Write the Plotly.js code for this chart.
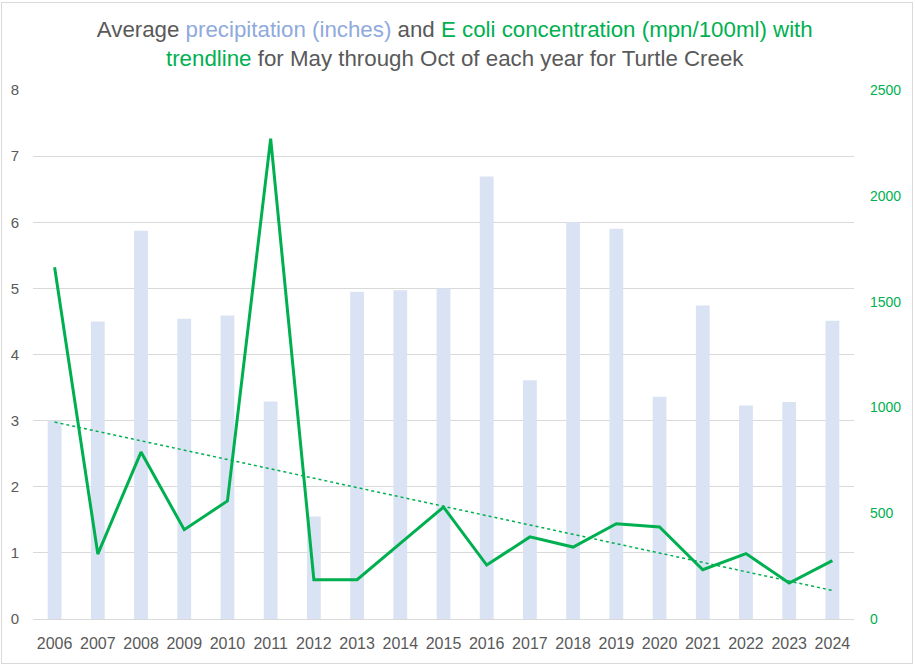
<!DOCTYPE html>
<html>
<head>
<meta charset="utf-8">
<script src="https://cdn.plot.ly/plotly-3.0.1.min.js"></script>
<style>
  html, body { margin: 0; padding: 0; background: #fff; }
  #wrap { position: relative; width: 915px; height: 668px; }
  #chart { width: 915px; height: 668px; }
  #frame { position: absolute; left: 1px; top: 2px; width: 910px; height: 660px; border: 1px solid #d9d9d9; pointer-events: none; }
</style>
</head>
<body>
<div id="wrap"><div id="chart"></div><div id="frame"></div></div>
<script>
const years = ['2006','2007','2008','2009','2010','2011','2012','2013','2014','2015','2016','2017','2018','2019','2020','2021','2022','2023','2024'];
const precipitation = [3.0, 4.50, 5.87, 4.54, 4.59, 3.29, 1.55, 4.95, 4.97, 5.0, 6.69, 3.61, 6.0, 5.90, 3.36, 4.74, 3.23, 3.28, 4.51];
const ecoli = [1662, 307, 789, 422, 558, 2270, 186, 186, 357, 529, 255, 388, 340, 450, 435, 233, 309, 170, 276];

// linear least-squares trendline (as Excel's linear trendline)
const n = ecoli.length;
const xs = ecoli.map((_, i) => i);
const mx = xs.reduce((a, b) => a + b, 0) / n;
const my = ecoli.reduce((a, b) => a + b, 0) / n;
let sxy = 0, sxx = 0;
for (let i = 0; i < n; i++) { sxy += (xs[i] - mx) * (ecoli[i] - my); sxx += (xs[i] - mx) ** 2; }
const slope = sxy / sxx, icpt = my - slope * mx;
const trend = xs.map(x => icpt + slope * x);

const FONT = 'Liberation Sans, Arial, sans-serif';
const GREEN = '#00b050';
const GRAY = '#595959';

const traces = [
  { type: 'bar', x: years, y: precipitation, name: 'Precipitation', marker: { color: '#dae3f3' }, width: 0.32, yaxis: 'y', hoverinfo: 'x+y' },
  { type: 'scatter', mode: 'lines', x: years, y: ecoli, name: 'E coli', yaxis: 'y2', line: { color: GREEN, width: 3 } },
  { type: 'scatter', mode: 'lines', x: years, y: trend, name: 'Trend', yaxis: 'y2', line: { color: GREEN, width: 1.5, dash: 'dot' } }
];

const layout = {
  width: 915, height: 668,
  margin: { l: 33, r: 61, t: 90, b: 49 },
  paper_bgcolor: '#fff', plot_bgcolor: '#fff',
  showlegend: false,
  title: {
    text: "Average <span style='color:#8faadc'>precipitation (inches)</span> and <span style='color:#00b050'>E coli concentration (mpn/100ml) with</span><br><span style='color:#00b050'>trendline</span> for May through Oct of each year for Turtle Creek",
    font: { family: FONT, size: 22.3, color: GRAY },
    x: 0.497, xanchor: 'center', y: 0.945, yanchor: 'middle', xref: 'container', yref: 'container'
  },
  xaxis: {
    type: 'category', showgrid: false, showline: true, linecolor: '#d9d9d9', linewidth: 1,
    ticks: '', tickfont: { family: FONT, size: 16, color: GRAY }, ticklabelstandoff: 10
  },
  yaxis: {
    range: [0, 8], dtick: 1, showgrid: true, gridcolor: '#d9d9d9', gridwidth: 1, zeroline: false,
    showline: false, ticks: '', tickfont: { family: FONT, size: 15, color: GRAY }, ticklabelstandoff: 13, fixedrange: true
  },
  yaxis2: {
    range: [0, 2500], dtick: 500, overlaying: 'y', side: 'right', showgrid: false, zeroline: false,
    showline: false, ticks: '', tickfont: { family: FONT, size: 14, color: GREEN }, ticklabelstandoff: 15, fixedrange: true
  },
  bargap: 0.68
};

Plotly.newPlot('chart', traces, layout, { displayModeBar: false, staticPlot: true });
</script>
</body>
</html>
